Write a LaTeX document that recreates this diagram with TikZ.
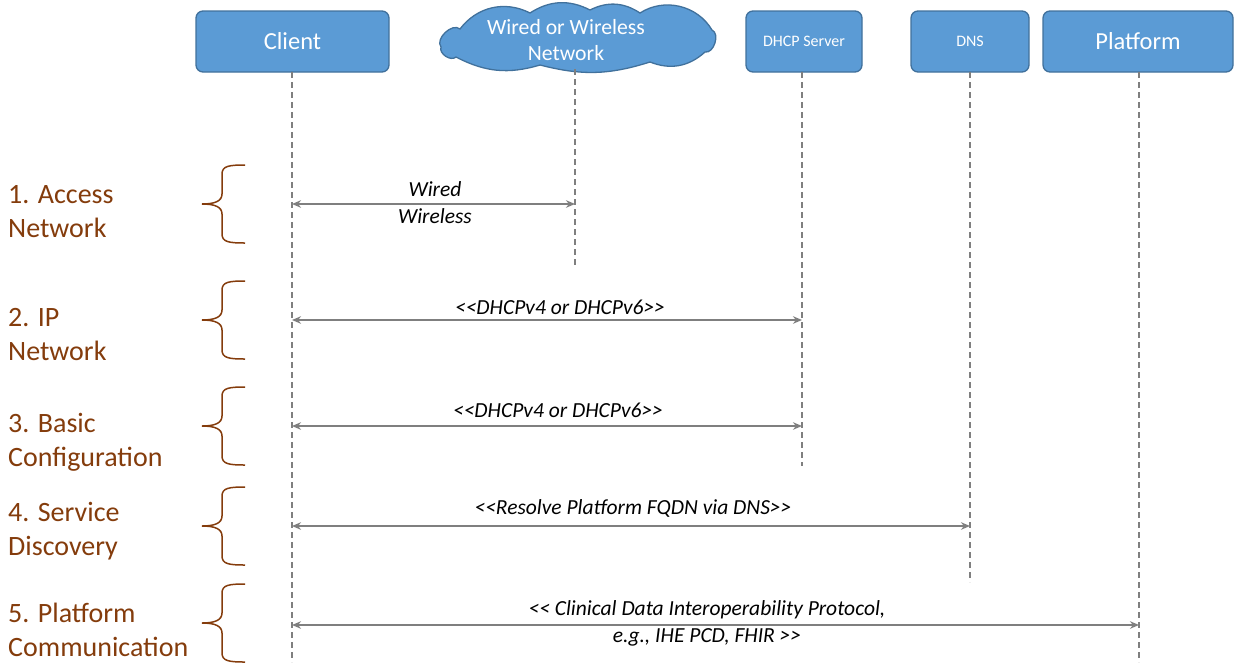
\documentclass[tikz,border=0pt]{standalone}
\usepackage{fontspec}
\setmainfont{Carlito}
\usetikzlibrary{arrows.meta}
\definecolor{boxfill}{HTML}{5B9BD5}
\definecolor{boxline}{HTML}{41719C}
\definecolor{lifegray}{HTML}{7F7F7F}
\definecolor{phase}{HTML}{843C0C}

\tikzset{
  actor/.style={draw=boxline, fill=boxfill, line width=1.3pt, rounded corners=7pt,
    text=white, inner sep=0pt, minimum height=61pt},
  bigname/.style={font=\fontsize{24.5}{28}\selectfont},
  smallname/.style={font=\fontsize{16}{18}\selectfont},
  cloudshape/.style={draw=boxline, fill=boxfill, line width=1.3pt},
  life/.style={draw=lifegray, line width=1.3pt, dash pattern=on 6pt off 4pt},
  msg/.style={draw=lifegray, line width=1.4pt,
    {Stealth[length=9pt,width=7.5pt]}-{Stealth[length=9pt,width=7.5pt]}},
  msglabel/.style={font=\fontsize{21.5}{27}\selectfont\itshape, align=center, inner sep=0pt},
  phaselabel/.style={font=\fontsize{28}{34}\selectfont, text=phase, align=left,
    inner sep=0pt, anchor=base west},
  brace/.style={draw=phase, line width=1.5pt},
  pics/curly/.style={code={
    \draw[brace] (43,-39) .. controls (27,-39) and (20,-38) .. (20,-30)
      -- (20,-10) .. controls (20,-3) and (13,0) .. (0,0)
      .. controls (13,0) and (20,3) .. (20,10)
      -- (20,30) .. controls (20,38) and (27,39) .. (43,39);
  }}
}

\begin{document}
\begin{tikzpicture}[x=1pt,y=-1pt]
\useasboundingbox (0,0) rectangle (1234,662);

% participants
\node[actor, bigname, minimum width=193pt] (client) at (292.5,41.5) {Client};

% network cloud, one puff between each pair of cusps
\draw[cloudshape] (441,47)
  to[bend left=84] (460,29)
  to[bend left=40] (530,13)
  to[bend left=30] (590,10)
  to[bend left=30] (640,13)
  to[bend left=46] (712,30)
  to[bend left=84] (705,52)
  to[bend left=32] (650,62)
  to[bend left=16] (540,65)
  to[bend left=22] (456,57)
  to[bend left=76] cycle;
\node[text=white, font=\fontsize{21.7}{26}\selectfont, align=center, inner sep=0pt] (net) at (566,40) {Wired or Wireless\\Network};

\node[actor, smallname, minimum width=116pt] (dhcp) at (804,41.5) {DHCP Server};
\node[actor, smallname, minimum width=118pt] (dns) at (970,41.5) {DNS};
\node[actor, bigname, minimum width=190pt] (platform) at (1138,41.5) {Platform};

% lifeline ends
\coordinate (clientTop) at (292,72);
\coordinate (clientEnd) at (292,662);
\coordinate (netTop) at (575,69);
\coordinate (netEnd) at (575,268);
\coordinate (dhcpTop) at (802,72);
\coordinate (dhcpEnd) at (802,466);
\coordinate (dnsTop) at (970,72);
\coordinate (dnsEnd) at (970,582);
\coordinate (platTop) at (1139,72);
\coordinate (platEnd) at (1139,662);

\draw[life] (clientTop) -- (clientEnd);
\draw[life] (netTop) -- (netEnd);
\draw[life] (dhcpTop) -- (dhcpEnd);
\draw[life] (dnsTop) -- (dnsEnd);
\draw[life] (platTop) -- (platEnd);

% messages
\coordinate (c1) at (292,204); \coordinate (n1) at (575,204);
\coordinate (c2) at (292,320); \coordinate (d2) at (802,320);
\coordinate (c3) at (292,426); \coordinate (d3) at (802,426);
\coordinate (c4) at (292,526); \coordinate (s4) at (970,526);
\coordinate (c5) at (292,625); \coordinate (p5) at (1139,625);

\draw[msg] (c1) -- (n1);
\draw[msg] (c2) -- (d2);
\draw[msg] (c3) -- (d3);
\draw[msg] (c4) -- (s4);
\draw[msg] (c5) -- (p5);

\node[msglabel] (l1) at (435,202.5) {Wired\\Wireless};
\node[msglabel] (l2) at (560,307.5) {<{}<DHCPv4 or DHCPv6>{}>};
\node[msglabel] (l3) at (558,410.5) {<{}<DHCPv4 or DHCPv6>{}>};
\node[msglabel] (l4) at (633,508.5) {<{}<Resolve Platform FQDN via DNS>{}>};
\node[msglabel] (l5) at (707,623.5) {<{}< Clinical Data Interoperability Protocol,\\e.g., IHE PCD, FHIR >{}>};

% phases
\pic at (202,204) {curly};
\pic at (202,320) {curly};
\pic at (202,426) {curly};
\pic at (202,526) {curly};
\pic at (202,623) {curly};

\node[phaselabel] (p1) at (8,237) {1. Access\\Network};
\node[phaselabel] (p2) at (8,360) {2. IP\\Network};
\node[phaselabel] (p3) at (8,466) {3. Basic\\Configuration};
\node[phaselabel] (p4) at (8,555) {4. Service\\Discovery};
\node[phaselabel] (p5) at (8,656) {5. Platform\\Communication};
\end{tikzpicture}
\end{document}
